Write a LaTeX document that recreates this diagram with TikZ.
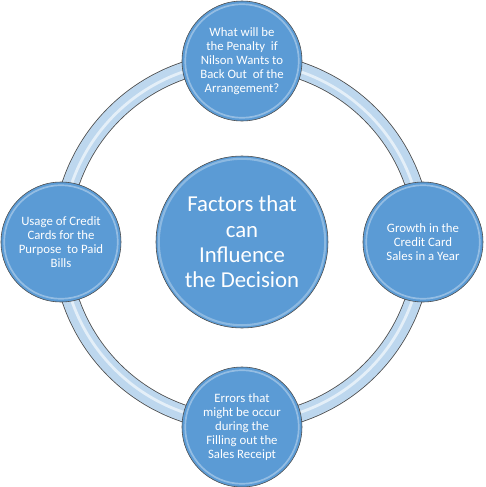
\documentclass[tikz,border=0pt]{standalone}
\usepackage{fontspec}
\setmainfont{Carlito}
\usepackage{tikz}
\definecolor{discblue}{HTML}{5B9BD5}
\definecolor{ringblue}{HTML}{BDD7EE}
\definecolor{rimgray}{HTML}{4A4A4A}

\begin{document}
\begin{tikzpicture}[
    node distance=4.525cm,
    every node/.style={font=\fontsize{9.1}{9.9}\selectfont, text=white},
    disc/.style={circle, draw=rimgray, thin, fill=discblue, align=center, inner sep=0pt, minimum size=3cm,
      path picture={\draw[white, opacity=0.35, line width=1.2pt] (path picture bounding box.center) circle (1.42cm);}},
    bigdisc/.style={disc, minimum size=4.3cm, font=\fontsize{16.2}{18}\selectfont,
      path picture={\draw[white, opacity=0.3, line width=1.5pt] (path picture bounding box.center) circle (2.08cm);}},
    ringedge/.style={line width=0.44cm, draw=rimgray},
    ringband/.style={line width=0.40cm, draw=ringblue},
    ringshine/.style={line width=0.07cm, draw=white, opacity=0.6}
  ]
    \useasboundingbox (-6.05,-6.125) rectangle (6.1,6.05);
    \coordinate (hub) at (0,0);
    % ring behind the discs
    \draw[ringedge] (hub) circle (4.525cm);
    \draw[ringband] (hub) circle (4.525cm);
    \draw[ringshine] (hub) circle (4.50cm);
    \node[bigdisc] (factors) at (hub) {Factors that\\can\\Influence\\the Decision};
    \node[disc, above of=factors] (penalty) {What will be\\the Penalty\ \ if\\Nilson Wants to\\Back Out\ \ of the\\Arrangement?};
    \node[disc, right of=factors] (growth) {Growth in the\\Credit Card\\Sales in a Year};
    \node[disc, below of=factors, yshift=-0.1cm] (errors) {Errors that\\might be occur\\during the\\Filling out the\\Sales Receipt};
    \node[disc, left of=factors] (usage) {Usage of Credit\\Cards for the\\Purpose\ \ to Paid\\Bills};
\end{tikzpicture}
\end{document}
